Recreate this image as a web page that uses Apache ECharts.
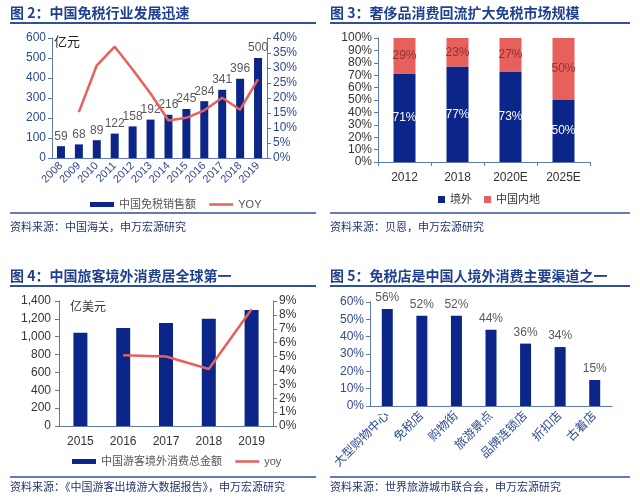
<!DOCTYPE html>
<html>
<head>
<meta charset="utf-8">
<script src="https://cdn.jsdelivr.net/npm/echarts@6/dist/echarts.min.js"></script>
<style>
  html, body { margin: 0; padding: 0; background: #fff; }
  #main { width: 640px; height: 502px; }
</style>
</head>
<body>
<div id="main"></div>
<script>
// chart 1: duty free sales
const years1 = ['2008', '2009', '2010', '2011', '2012', '2013', '2014', '2015', '2016', '2017', '2018', '2019'];
const sales1 = [59, 68, 89, 122, 158, 192, 216, 245, 284, 341, 396, 500];
const yoy1 = [null, 15.3, 30.9, 37.1, 29.5, 21.5, 12.5, 13.4, 15.9, 20.1, 16.1, 26.3];

// chart 2: luxury spend split
const cats2 = ['2012', '2018', '2020E', '2025E'];
const abroad2 = [71, 77, 73, 50];
const domestic2 = [29, 23, 27, 50];

// chart 3: outbound spending
const years3 = ['2015', '2016', '2017', '2018', '2019'];
const spend3 = [1045, 1098, 1153, 1200, 1300];
const yoy3 = [null, 5.1, 5.0, 4.1, 8.4];

// chart 4: channels
const channels4 = ['大型购物中心', '免税店', '购物街', '旅游景点', '品牌连锁店', '折扣店', '古着店'];
const share4 = [56, 52, 52, 44, 36, 34, 15];

const FONT = '"Liberation Sans", Arial, "Noto Sans CJK SC", sans-serif';
const NAVY = '#0b2589';
const RED = '#e8605c';
const AXIS = '#5b79b8';
const LABEL = '#2e4a8e';
const TITLE = '#1f3f8f';

const chart = echarts.init(document.getElementById('main'));

function yAxisStyle(extra) {
  return Object.assign({
    type: 'value',
    axisLine: { show: true, lineStyle: { color: AXIS, width: 1 } },
    axisTick: { show: true, length: 4, lineStyle: { color: AXIS } },
    splitLine: { show: false },
    axisLabel: { color: LABEL, fontSize: 12, fontFamily: FONT, margin: 6 }
  }, extra);
}

function catAxis(gridIndex, data, extra) {
  return Object.assign({
    type: 'category',
    gridIndex: gridIndex,
    data: data,
    axisLine: { lineStyle: { color: AXIS } },
    axisTick: { show: true, length: 4, lineStyle: { color: AXIS } },
    axisLabel: { color: LABEL, fontSize: 12, fontFamily: FONT, interval: 0 }
  }, extra);
}

function titleText(text, x, y) {
  return { type: 'text', left: x, top: y, style: { text: text, fill: TITLE, font: 'bold 14px "Noto Sans CJK SC", sans-serif' } };
}
function sourceText(text, x, y) {
  return { type: 'text', left: x, top: y, style: { text: text, fill: '#23366f', font: '11px "Noto Sans CJK SC", sans-serif' } };
}
function hline(x1, x2, y, w) {
  return { type: 'line', shape: { x1: x1, y1: y, x2: x2, y2: y }, style: { stroke: '#2f4f9f', lineWidth: w } };
}

const lineLegend = function (name) {
  return { name: name, itemStyle: { opacity: 0 }, lineStyle: { color: RED, width: 2.5 } };
};

const option = {
  backgroundColor: '#fff',
  animation: false,
  textStyle: { fontFamily: FONT },
  grid: [
    { left: 52, top: 38, width: 215, height: 120 },
    { left: 378, top: 38, width: 212, height: 124 },
    { left: 59, top: 301, width: 214, height: 125 },
    { left: 370, top: 302, width: 242, height: 104 }
  ],
  legend: [
    {
      left: 85, top: 194, itemGap: 12, itemWidth: 24, itemHeight: 5,
      textStyle: { color: '#555', fontSize: 11, fontFamily: FONT },
      data: [{ name: '中国免税销售额', icon: 'rect' }, lineLegend('YOY')]
    },
    {
      left: 433, top: 189, itemGap: 12, itemWidth: 7, itemHeight: 7,
      textStyle: { color: '#333', fontSize: 11, fontFamily: FONT },
      data: [{ name: '境外', icon: 'rect' }, { name: '中国内地', icon: 'rect' }]
    },
    {
      left: 67, top: 451, itemGap: 12, itemWidth: 24, itemHeight: 5,
      textStyle: { color: '#555', fontSize: 11, fontFamily: FONT },
      data: [{ name: '中国游客境外消费总金额', icon: 'rect' }, lineLegend('yoy')]
    }
  ],
  xAxis: [
    catAxis(0, years1, { axisTick: { show: false }, axisLabel: { color: LABEL, fontSize: 11, fontFamily: FONT, interval: 0, rotate: 45, margin: 6 } }),
    catAxis(1, cats2, { axisLabel: { color: '#333', fontSize: 12, fontFamily: FONT, interval: 0, margin: 10 } }),
    catAxis(2, years3, { axisTick: { show: false }, axisLabel: { color: '#333', fontSize: 12, fontFamily: FONT, interval: 0, margin: 10 } }),
    catAxis(3, channels4, { axisTick: { show: false }, axisLabel: { color: LABEL, fontSize: 12, fontFamily: FONT, interval: 0, rotate: 45, margin: 8 } })
  ],
  yAxis: [
    yAxisStyle({ gridIndex: 0, min: 0, max: 600, interval: 100 }),
    yAxisStyle({ gridIndex: 0, min: 0, max: 40, interval: 5, position: 'right', axisLabel: { color: LABEL, fontSize: 12, fontFamily: FONT, margin: 6, formatter: '{value}%' } }),
    yAxisStyle({ gridIndex: 1, min: 0, max: 100, interval: 10, axisLabel: { color: '#333', fontSize: 12, fontFamily: FONT, margin: 6, formatter: '{value}%' } }),
    yAxisStyle({ gridIndex: 2, min: 0, max: 1400, interval: 200, axisLabel: { color: '#333', fontSize: 12, fontFamily: FONT, margin: 8, formatter: function (v) { return v.toLocaleString('en-US'); } } }),
    yAxisStyle({ gridIndex: 2, min: 0, max: 9, interval: 1, position: 'right', axisLabel: { color: '#333', fontSize: 12, fontFamily: FONT, margin: 6, formatter: '{value}%' } }),
    yAxisStyle({ gridIndex: 3, min: 0, max: 60, interval: 10, axisLabel: { color: LABEL, fontSize: 12, fontFamily: FONT, margin: 6, formatter: '{value}%' } })
  ],
  series: [
    {
      name: '中国免税销售额', type: 'bar', xAxisIndex: 0, yAxisIndex: 0, data: sales1, barWidth: 8,
      itemStyle: { color: NAVY },
      label: { show: true, position: 'top', color: '#595959', fontSize: 12, fontFamily: FONT, distance: 4 }
    },
    {
      name: 'YOY', type: 'line', xAxisIndex: 0, yAxisIndex: 1, data: yoy1, symbol: 'none',
      lineStyle: { color: RED, width: 2.5 }, itemStyle: { color: RED }
    },
    {
      name: '境外', type: 'bar', stack: 's2', xAxisIndex: 1, yAxisIndex: 2, data: abroad2, barWidth: 22,
      itemStyle: { color: NAVY },
      label: { show: true, position: 'inside', color: '#fff', fontSize: 12, fontFamily: FONT, formatter: '{c}%' }
    },
    {
      name: '中国内地', type: 'bar', stack: 's2', xAxisIndex: 1, yAxisIndex: 2, data: domestic2, barWidth: 22,
      itemStyle: { color: RED },
      label: { show: true, position: 'inside', color: '#8a3434', fontSize: 12, fontFamily: FONT, formatter: '{c}%' }
    },
    {
      name: '中国游客境外消费总金额', type: 'bar', xAxisIndex: 2, yAxisIndex: 3, data: spend3, barWidth: 14,
      itemStyle: { color: NAVY }
    },
    {
      name: 'yoy', type: 'line', xAxisIndex: 2, yAxisIndex: 4, data: yoy3, symbol: 'none',
      lineStyle: { color: RED, width: 2.5 }, itemStyle: { color: RED }
    },
    {
      name: '渠道', type: 'bar', xAxisIndex: 3, yAxisIndex: 5, data: share4, barWidth: 11,
      itemStyle: { color: NAVY },
      label: { show: true, position: 'top', color: '#595959', fontSize: 12, fontFamily: FONT, distance: 5, formatter: '{c}%' }
    }
  ],
  graphic: [
    titleText('图 2：中国免税行业发展迅速', 10, 6),
    hline(10, 316, 23, 2),
    { type: 'text', left: 54, top: 35, style: { text: '亿元', fill: '#222', font: '13px "Noto Sans CJK SC", sans-serif' } },
    hline(10, 316, 213, 1.5),
    sourceText('资料来源：中国海关，申万宏源研究', 10, 221),

    titleText('图 3：奢侈品消费回流扩大免税市场规模', 330, 6),
    hline(330, 630, 23, 2),
    hline(330, 630, 213, 1.5),
    sourceText('资料来源：贝恩，申万宏源研究', 330, 221),

    titleText('图 4：中国旅客境外消费居全球第一', 10, 269),
    hline(10, 316, 286, 2),
    { type: 'text', left: 70, top: 300, style: { text: '亿美元', fill: '#333', font: '12px "Noto Sans CJK SC", sans-serif' } },
    hline(10, 316, 477, 1.5),
    sourceText('资料来源：《中国游客出境游大数据报告》，申万宏源研究', 10, 481),

    titleText('图 5：免税店是中国人境外消费主要渠道之一', 330, 269),
    hline(330, 630, 286, 2),
    hline(330, 630, 477, 1.5),
    sourceText('资料来源：世界旅游城市联合会，申万宏源研究', 330, 481)
  ]
};

chart.setOption(option);
</script>
</body>
</html>
